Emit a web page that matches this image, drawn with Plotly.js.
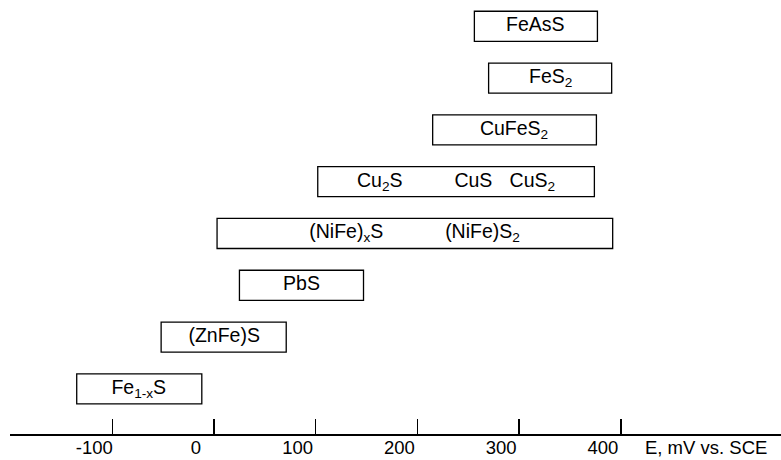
<!DOCTYPE html>
<html>
<head>
<meta charset="utf-8">
<script src="https://cdn.plot.ly/plotly-3.0.1.min.js"></script>
<style>html,body{margin:0;padding:0;background:#fff;}#chart{width:781px;height:460px;}</style>
</head>
<body>
<div id="chart"></div>
<script>
// Potential windows (mV vs. SCE) of each sulfide, bottom row = 1
const rows      = [1, 2, 3, 4, 5, 6, 7, 8];
const boxStart  = [-135, -52, 25, 3, 102, 215, 270, 256];
const boxEnd    = [-12, 71, 147, 392, 374, 376, 391, 377];

// Labels drawn inside the boxes
const labelText = ["Fe<sub>1-x</sub>S", "(ZnFe)S", "PbS",
                   "(NiFe)<sub>x</sub>S", "(NiFe)S<sub>2</sub>",
                   "Cu<sub>2</sub>S", "CuS", "CuS<sub>2</sub>",
                   "CuFeS<sub>2</sub>", "FeS<sub>2</sub>", "FeAsS"];
const labelX    = [-74, 10, 86, 130, 264, 163, 255, 313, 295, 331, 316];
const labelRow  = [1, 2, 3, 4, 4, 5, 5, 5, 6, 7, 8];

// Axis
const tickVals  = [-100, 0, 100, 200, 300, 400];
const tickText  = ["-100", "0", "100", "200", "300", "400"];
const axisTitle = "E, mV vs. SCE";

const FONT = "Liberation Sans, Arial, sans-serif";

const boxes = {
  type: "bar",
  orientation: "h",
  y: rows,
  base: boxStart,
  x: boxEnd.map((e, i) => e - boxStart[i]),
  width: 0.58,
  marker: {color: "#ffffff", line: {color: "#000000", width: 1.3}},
  hoverinfo: "skip",
  showlegend: false
};

const labels = {
  type: "scatter",
  mode: "text",
  x: labelX,
  y: labelRow,
  text: labelText,
  textposition: "middle center",
  textfont: {family: FONT, size: 19.5, color: "#000000"},
  hoverinfo: "skip",
  showlegend: false,
  cliponaxis: false
};

const layout = {
  width: 781,
  height: 460,
  margin: {l: 10, r: 0, t: 0, b: 26, pad: 0},
  paper_bgcolor: "#ffffff",
  plot_bgcolor: "#ffffff",
  showlegend: false,
  font: {family: FONT, size: 18.5, color: "#000000"},
  xaxis: {
    range: [-200.6, 557.5],
    tickmode: "array",
    tickvals: tickVals,
    ticktext: tickText,
    ticks: "inside",
    ticklen: 15,
    tickwidth: 1.5,
    tickcolor: "#000000",
    showline: true,
    linecolor: "#000000",
    linewidth: 1.5,
    showgrid: false,
    zeroline: false,
    ticklabelshift: -18,
    ticklabelstandoff: -4,
    tickfont: {family: FONT, size: 18.5, color: "#000000"},
    automargin: false,
    fixedrange: true
  },
  yaxis: {
    range: [0.129, 8.507],
    visible: false,
    showgrid: false,
    zeroline: false,
    automargin: false,
    fixedrange: true
  },
  annotations: [{
    text: axisTitle,
    xref: "x", yref: "paper",
    x: 421.8, y: -0.032,
    xanchor: "left", yanchor: "middle",
    showarrow: false,
    font: {family: FONT, size: 18.5, color: "#000000"}
  }]
};

Plotly.newPlot("chart", [boxes, labels], layout, {displayModeBar: false, staticPlot: true});
</script>
</body>
</html>
